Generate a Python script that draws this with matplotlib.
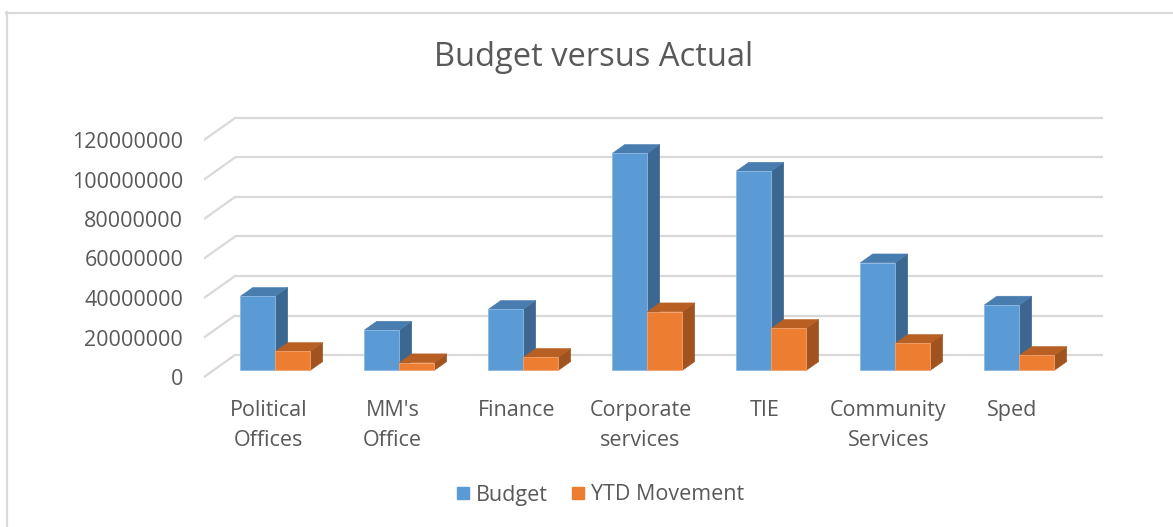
import matplotlib
matplotlib.use("Agg")
import matplotlib.pyplot as plt
from matplotlib.patches import Polygon
from matplotlib.lines import Line2D

# ---------------- data ----------------
categories = ["Political\nOffices", "MM's\nOffice", "Finance", "Corporate\nservices",
              "TIE", "Community\nServices", "Sped"]
budget = [37.5e6, 20.4e6, 30.9e6, 109.9e6, 100.9e6, 54.5e6, 33.1e6]
ytd_movement = [9.6e6, 3.9e6, 6.6e6, 29.7e6, 21.3e6, 13.7e6, 7.6e6]
series_names = ["Budget", "YTD Movement"]
yticks = [0, 20000000, 40000000, 60000000, 80000000, 100000000, 120000000]
ytick_labels = ["0", "20000000", "40000000", "60000000", "80000000", "100000000", "120000000"]
title = "Budget versus Actual"

# ---------------- style ----------------
FONT = "Open Sans"
TXT = "#595959"
GRID = "#D9D9D9"
face_cols = ["#5B9BD5", "#ED7D31"]
side_cols = ["#3B6790", "#A0531E"]
top_cols = ["#4A7DAF", "#B85F24"]
edge_cols = ["#8CB8E3", "#F3A36E"]

W, H = 1173, 527
fig = plt.figure(figsize=(W / 100, H / 100), dpi=100)

# layout (pixels)
PX_CAT = 124.0            # px per category
PX_VAL = 39.5 / 20e6      # px per value unit
X_FRONT_LEFT = 204.0
Y_ZERO_FRONT = 377.0
DEPTH_DX_PX, DEPTH_DY_PX = 31.0, 22.0
ax_left_px, ax_right_px = X_FRONT_LEFT, 1110.0
ax_top_px, ax_bot_px = 100.0, 385.0

ax = fig.add_axes([ax_left_px / W, 1 - ax_bot_px / H,
                   (ax_right_px - ax_left_px) / W, (ax_bot_px - ax_top_px) / H])
n = len(categories)
ax.set_xlim(-0.5, -0.5 + (ax_right_px - ax_left_px) / PX_CAT)
ax.set_ylim(-(ax_bot_px - Y_ZERO_FRONT) / PX_VAL, (Y_ZERO_FRONT - ax_top_px) / PX_VAL)
for s in ax.spines.values():
    s.set_visible(False)
ax.set_xticks([])
ax.set_yticks(yticks)
ax.set_yticklabels(ytick_labels, fontfamily=FONT, fontsize=15.5, color=TXT)
ax.tick_params(axis="y", length=0, pad=15)
ax.patch.set_alpha(0)

DX = DEPTH_DX_PX / PX_CAT
DY = DEPTH_DY_PX / PX_VAL


def P(x, v, t):
    return (x + t * DX, v + t * DY)


# gridlines: back wall + left wall
x_lo, x_hi = -0.5, n - 0.5
for v in yticks:
    a, b = P(x_lo, v, 1), P(x_hi, v, 1)
    ax.plot([a[0], b[0]], [a[1], b[1]], color=GRID, lw=1.6, zorder=1, solid_capstyle="butt")
    c = P(x_lo, v, 0)
    ax.plot([c[0], a[0]], [c[1], a[1]], color=GRID, lw=1.6, zorder=1)

# bars
BW = 0.282
TF, TB = 0.3, 0.7
z = 2
for i in range(n):
    for s, vals in enumerate([budget, ytd_movement]):
        v = vals[i]
        x0 = i - BW + s * BW
        x1 = x0 + BW
        front = [P(x0, 0, TF), P(x1, 0, TF), P(x1, v, TF), P(x0, v, TF)]
        side = [P(x1, 0, TF), P(x1, 0, TB), P(x1, v, TB), P(x1, v, TF)]
        top = [P(x0, v, TF), P(x1, v, TF), P(x1, v, TB), P(x0, v, TB)]
        ax.add_patch(Polygon(side, closed=True, fc=side_cols[s], ec=side_cols[s], lw=0.4, zorder=z))
        ax.add_patch(Polygon(top, closed=True, fc=top_cols[s], ec=top_cols[s], lw=0.4, zorder=z))
        ax.add_patch(Polygon(front, closed=True, fc=face_cols[s], ec=edge_cols[s], lw=0.6, zorder=z + 0.5))
        z += 1

# category labels
lab_y = -(400 - Y_ZERO_FRONT) / PX_VAL
for i, lab in enumerate(categories):
    ax.text(i + 0.02, lab_y, lab, ha="center", va="top", fontfamily=FONT, fontsize=15.5,
            color=TXT, linespacing=1.55, clip_on=False)

# title
fig.text(594 / W, 1 - 57 / H, title, ha="center", va="center", fontfamily=FONT,
         fontsize=23.5, color=TXT)

# legend
handles = [Line2D([], [], marker="s", linestyle="none", markersize=9, markerfacecolor=c,
                  markeredgecolor=c) for c in face_cols]
fig.legend(handles, series_names, loc="center", bbox_to_anchor=(599 / W, 1 - 495 / H),
           ncol=2, frameon=False, prop={"family": FONT, "size": 15.5}, labelcolor=TXT,
           handletextpad=0.2, columnspacing=1.0, handlelength=0.8)

# chart border (left + top)
fig.add_artist(Line2D([7 / W, 7 / W], [0, 1 - 12 / H], color=GRID, lw=1.6))
fig.add_artist(Line2D([6 / W, 1], [1 - 12.5 / H, 1 - 12.5 / H], color=GRID, lw=1.6))

fig.savefig("out.png", dpi=100, facecolor="white")
